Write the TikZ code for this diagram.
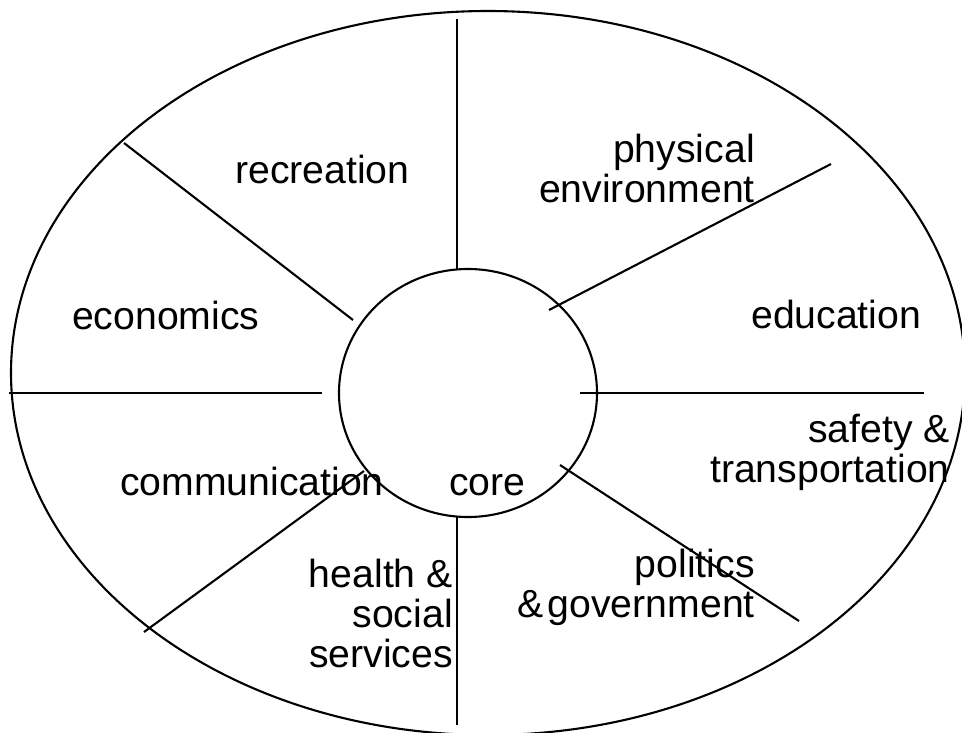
\documentclass[tikz,border=0pt]{standalone}
\usepackage{fontspec}
\setmainfont{Liberation Sans}
\begin{document}
\begin{tikzpicture}[x=1pt,y=-1pt,
  rim/.style={line width=2.1pt},
  spoke/.style={line width=2.1pt},
  sector/.style={inner sep=0pt, font=\fontsize{39.2}{40}\selectfont}]
\useasboundingbox (0,0) rectangle (962,732);

% outer ring and the core
\draw[rim] (488,373) ellipse [x radius=477pt, y radius=362pt];
\draw[rim] (468,393) ellipse [x radius=129pt, y radius=124pt];

% spokes between the sectors
\coordinate (n1) at (457,19);   \coordinate (n2) at (457,269);
\coordinate (s1) at (457,517);  \coordinate (s2) at (457,725);
\coordinate (w1) at (9,393);    \coordinate (w2) at (322,393);
\coordinate (e1) at (580,393);  \coordinate (e2) at (924,393);
\coordinate (nw1) at (124,143); \coordinate (nw2) at (353,320);
\coordinate (ne1) at (549,310); \coordinate (ne2) at (831,164);
\coordinate (sw1) at (144,632); \coordinate (sw2) at (364,471);
\coordinate (se1) at (560,465); \coordinate (se2) at (799,621);
\draw[spoke] (n1) -- (n2);
\draw[spoke] (s1) -- (s2);
\draw[spoke] (w1) -- (w2);
\draw[spoke] (e1) -- (e2);
\draw[spoke] (nw1) -- (nw2);
\draw[spoke] (ne1) -- (ne2);
\draw[spoke] (sw1) -- (sw2);
\draw[spoke] (se1) -- (se2);

% sector labels (multi-line labels are placed by their last baseline)
\node[sector, anchor=base west] (rec) at (235,183) {recreation};
\node[sector, anchor=base east, align=right] (phys) at (755,202) {physical\\environment};
\node[sector, anchor=base west] (eco) at (72,329) {economics};
\node[sector, anchor=base west] (edu) at (751,328) {education};
\node[sector, anchor=base east, align=right] (saf) at (950,482) {safety \&\\transportation};
\node[sector, anchor=base west] (com) at (120,495) {communication};
\node[sector, anchor=base west] (core) at (449,495) {core};
\node[sector, anchor=base east, align=right] (hea) at (453,667) {health \&\\social\\services};
\node[sector, anchor=base east, align=right] (pol) at (755,617) {politics\\\&\hspace{0.1em}government};
\end{tikzpicture}
\end{document}
